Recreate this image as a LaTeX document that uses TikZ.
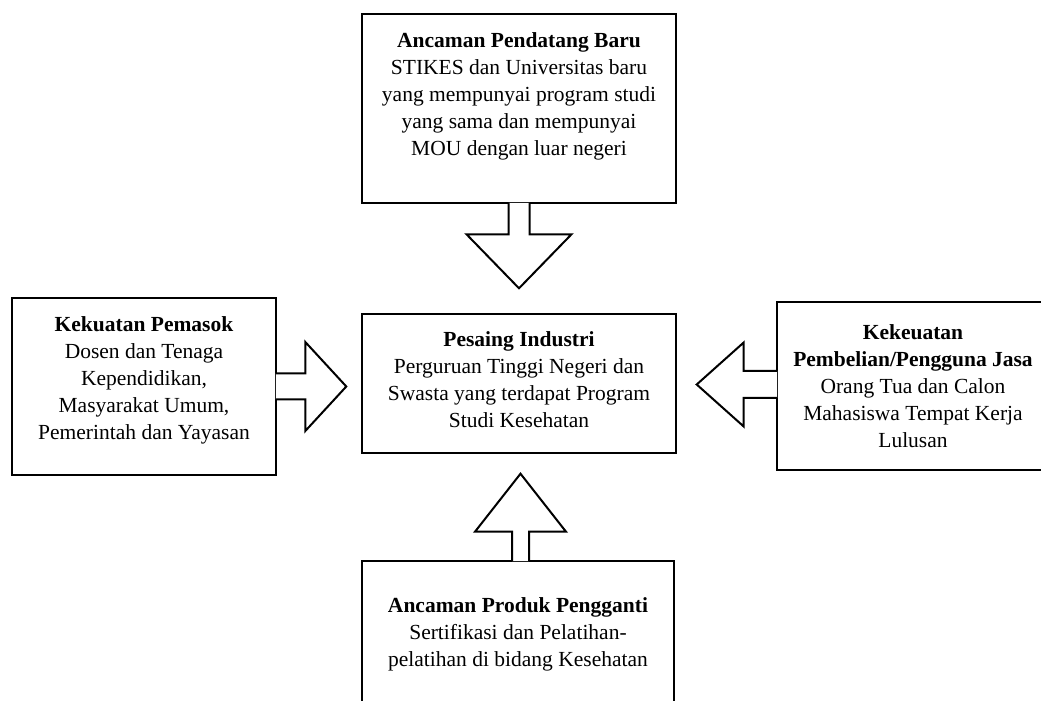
\documentclass[tikz,border=0pt]{standalone}
\usepackage{fontspec}
\setmainfont{Liberation Serif}
\begin{document}
\begin{tikzpicture}
[x=1pt,y=1pt,%
  box/.style={shape=rectangle,draw,line width=2.6pt,fill=white,align=center,inner sep=0pt},%
  blockarrow/.style={draw,fill=white,line width=2pt,line join=miter},%
  every node/.style={font=\fontsize{21.5}{27}\selectfont}]
\useasboundingbox (0,0) rectangle (1041,701);
\clip (0,0) rectangle (1041,701);
\node[box,minimum width=314,minimum height=189] (baru) at (519,592.5)
  {\textbf{Ancaman Pendatang Baru}\\
   STIKES dan Universitas baru\\
   yang mempunyai program studi\\
   yang sama dan mempunyai\\
   MOU dengan luar negeri\\[2pt]};
\node[box,minimum width=314,minimum height=139] (pesaing) at (519,317.5)
  {\textbf{Pesaing Industri}\\
   Perguruan Tinggi Negeri dan\\
   Swasta yang terdapat Program\\
   Studi Kesehatan\\[-20pt]};
\node[box,minimum width=264,minimum height=177] (pemasok) at (144,314.5)
  {\textbf{Kekuatan Pemasok}\\
   Dosen dan Tenaga\\
   Kependidikan,\\
   Masyarakat Umum,\\
   Pemerintah dan Yayasan\\[-10pt]};
\node[box,minimum width=272,minimum height=168] (pembeli) at (913,315)
  {\textbf{Kekeuatan}\\
   \textbf{Pembelian/Pengguna Jasa}\\
   Orang Tua dan Calon\\
   Mahasiswa Tempat Kerja\\
   Lulusan};
\node[box,minimum width=312,minimum height=150] (pengganti) at (518,65)
  {\textbf{Ancaman Produk Pengganti}\\
   Sertifikasi dan Pelatihan-\\
   pelatihan di bidang Kesehatan\\[-19pt]};
% block arrows
\draw[blockarrow] ([xshift=-10.5,yshift=1.5]baru.south) -- ++(0,-31.5) -- ++(-42,0)
  -- ++(52.5,-54) -- ++(52.5,54) -- ++(-42,0) -- ++(0,31.5);
\draw[blockarrow] ([xshift=-1.5,yshift=13]pemasok.east) -- ++(29.5,0) -- ++(0,31.5)
  -- ++(41,-44.5) -- ++(-41,-44.5) -- ++(0,31.5) -- ++(-29.5,0);
\draw[blockarrow] ([xshift=1.5,yshift=15]pembeli.west) -- ++(-33.5,0) -- ++(0,28.5)
  -- ++(-47,-42) -- ++(47,-42) -- ++(0,28.5) -- ++(33.5,0);
\draw[blockarrow] ([xshift=-6,yshift=-1.5]pengganti.north) -- ++(0,29.5) -- ++(-37,0)
  -- ++(45.5,58) -- ++(45.5,-58) -- ++(-37,0) -- ++(0,-29.5);
\end{tikzpicture}
\end{document}
